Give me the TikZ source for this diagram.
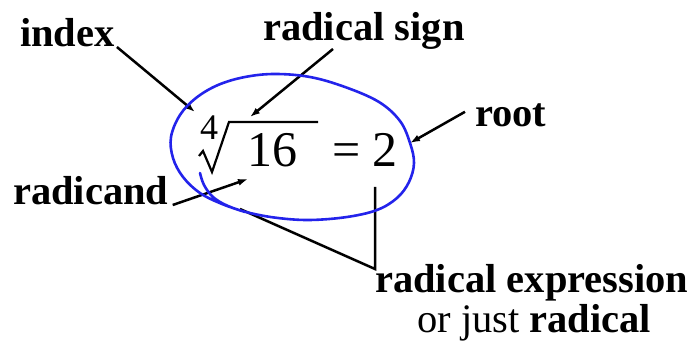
\documentclass[tikz,border=0pt]{standalone}
\usepackage{fontspec}
\setmainfont{Liberation Serif}
\usepackage{tikz}
\usetikzlibrary{arrows.meta}
\definecolor{penblue}{RGB}{35,35,235}

\begin{document}
\begin{tikzpicture}[x=1pt, y=-1pt,
                lbl/.style={inner sep=0pt, anchor=base west, font=\fontsize{40.5}{44}\selectfont\bfseries},
                num/.style={inner sep=0pt, anchor=base west, font=\fontsize{50}{54}\selectfont},
                arr/.style={-{Latex[length=10pt, width=7pt]}, line width=2.5pt},
                bar/.style={line width=2.5pt},
                loop/.style={draw=penblue, line width=2.6pt, line cap=round}]
                \useasboundingbox (0,0) rectangle (699,344);
                % labels
                \node[lbl] (idx) at (20,47) {index};
                \node[lbl] (sign) at (263,41) {radical sign};
                \node[lbl] (root) at (475,127) {root};
                \node[lbl] (rcand) at (13,205) {radicand};
                \node[lbl] (rexpr) at (375,293) {radical expression};
                \node[inner sep=0pt, anchor=base west, font=\fontsize{40.5}{44}\selectfont] (rjust) at (417,333) {or just \textbf{radical}};
                % the expression
                \node[inner sep=0pt, anchor=base west, font=\fontsize{36}{40}\selectfont] (four) at (200,140) {4};
                \node[num] (sixteen) at (247,167) {16};
                \node[num] (two) at (332,167) {= 2};
                \draw[line width=2.2pt, line join=miter] (199,156) -- (203,151) -- (212,172) -- (229,122) -- (318,122);
                % arrow ends
                \coordinate (idxtip) at (195,112);
                \coordinate (signfrom) at (333,49);
                \coordinate (signtip) at (250,117);
                \coordinate (roottip) at (410,143);
                \coordinate (rcandtip) at (248,179);
                \coordinate (loopbot) at (240,209);
                \coordinate (twobot) at (375,187);
                \coordinate (corner) at (375,269);
                \draw[arr] (idx.base east) ++(2,0) -- (idxtip);
                \draw[arr] (signfrom) -- (signtip);
                \draw[arr] (root.west) ++(-10,-4) -- (roottip);
                \draw[arr] (rcand.base east) ++(4,0) -- (rcandtip);
                \draw[bar] (loopbot) -- (corner) -- (twobot);
                % hand drawn loop
                \draw[loop] plot[smooth, tension=0.6] coordinates {(200,173) (204,185) (213,197) (228,206) (250,213)
                    (278,218) (310,220) (347,217) (377,210) (397,198) (409,182) (414,163) (410,143) (400,121)
                    (379,102) (345,87) (310,77) (275,74) (245,77) (218,85) (196,98) (180,115) (171,137)
                    (173,158) (183,177) (200,193) (222,204) (245,212)};
            \end{tikzpicture}
\end{document}
